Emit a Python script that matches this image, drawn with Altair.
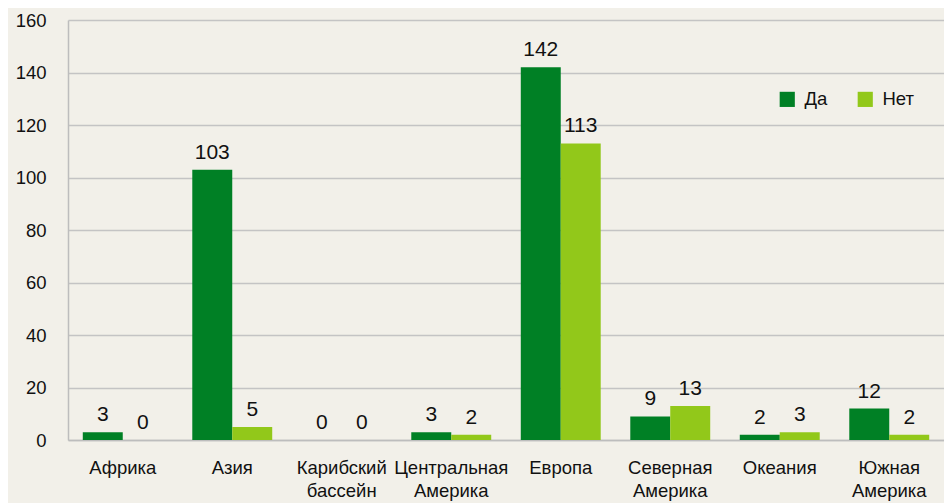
import altair as alt
import pandas as pd

regions = ["Африка", "Азия", "Карибский бассейн", "Центральная Америка", "Европа",
           "Северная Америка", "Океания", "Южная Америка"]
da = [3, 103, 0, 3, 142, 9, 2, 12]
net = [0, 5, 0, 2, 113, 13, 3, 2]
series = ["Да", "Нет"]
colors = ["#008025", "#92c81a"]

rows = []
for r, a, b in zip(regions, da, net):
    rows.append({"region": r, "series": "Да", "value": a})
    rows.append({"region": r, "series": "Нет", "value": b})
df = pd.DataFrame(rows)

FONT = "Liberation Sans"

x = alt.X("region:N", sort=regions, title=None,
          scale=alt.Scale(paddingInner=0.27, paddingOuter=0.135),
          axis=alt.Axis(labelAngle=0, labelFontSize=18.5, labelColor="#111",
                        labelFont=FONT, labelPadding=18, tickSize=0,
                        domainColor="#bdbdbd", domainWidth=1.5,
                        labelExpr="split(datum.label, ' ')", labelLineHeight=23,
                        labelLimit=200))
y = alt.Y("value:Q", title=None,
          scale=alt.Scale(domain=[0, 160], nice=False),
          axis=alt.Axis(values=list(range(0, 161, 20)), labelFontSize=18.5,
                        labelColor="#111", labelFont=FONT, labelPadding=22,
                        tickSize=0, domainColor="#bdbdbd", domainWidth=1.5,
                        grid=True, gridColor="#c4c4c4", gridWidth=1.5))

base = alt.Chart(df).encode(
    x=x,
    xOffset=alt.XOffset("series:N", sort=series, scale=alt.Scale(paddingInner=0)),
    y=y,
)

bars = base.mark_bar().encode(
    color=alt.Color("series:N", sort=series,
                    scale=alt.Scale(domain=series, range=colors),
                    legend=alt.Legend(title=None, orient="none", direction="horizontal",
                                      legendX=710, legendY=70, symbolType="square",
                                      symbolSize=230, symbolStrokeWidth=0,
                                      symbolOpacity=1,
                                      labelFontSize=18.5, labelFont=FONT,
                                      labelColor="#111", columnPadding=28,
                                      labelOffset=8))
)

text = base.mark_text(baseline="bottom", dy=-7, fontSize=21, font=FONT,
                      color="#111").encode(text="value:Q")

chart = (bars + text).properties(
    width=876, height=420,
    autosize=alt.AutoSizeParams(type="none"),
    padding={"left": 60, "top": 12, "right": 0, "bottom": 63},
    background="#f2f0e9",
).configure_view(stroke=None)

chart.save("out.html", embed_options={"renderer": "svg", "actions": False})
